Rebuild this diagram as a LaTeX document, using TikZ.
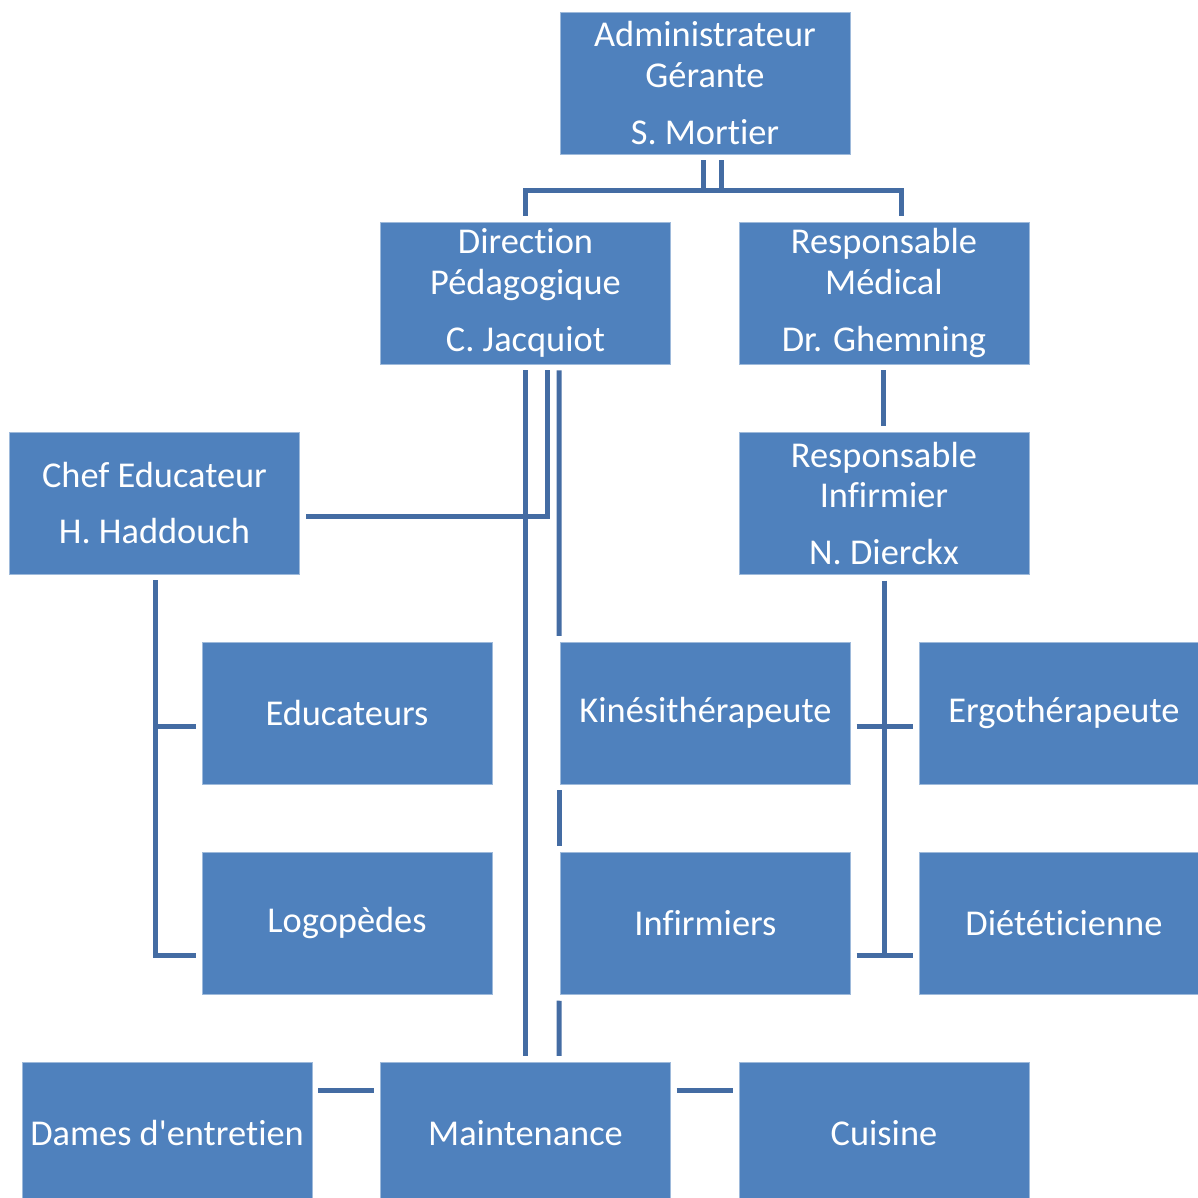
\documentclass[tikz,border=0pt]{standalone}
\usepackage{fontspec}
\setmainfont{Carlito}[Ligatures={TeXOff,NoCommon}]
\usepackage{tikz}
\usetikzlibrary{positioning,calc}

\definecolor{boxblue}{RGB}{79,129,189}
\definecolor{linkblue}{RGB}{68,108,163}

\begin{document}
\begin{tikzpicture}[x=0.02cm, y=-0.02cm,
    box/.style={rectangle, fill=boxblue, draw=boxblue!55!white, line width=0.3pt,
      minimum width=5.8cm, minimum height=2.84cm, inner sep=2pt, text=white,
      align=center, font=\fontsize{20.7}{23.3}\selectfont},
    link/.style={draw=linkblue, line width=0.1cm}]
      \useasboundingbox (0,0) rectangle (1198,1198);
      \clip (0,0) rectangle (1198,1198);

      % boxes
      \node (admin)[box] at (705,83) {Administrateur\\Gérante\\[0.32cm]S. Mortier};
      \node (dir)[box] at (525.5,293) {Direction\\Pédagogique\\[0.32cm]C. Jacquiot};
      \node (med)[box, right=1.36cm of dir] {Responsable\\Médical\\[0.32cm]Dr. Ghemning};
      \node (chef)[box] at (154.5,503) {Chef Educateur\\[0.32cm]H. Haddouch};
      \node (inf)[box, below=1.36cm of med] {Responsable\\Infirmier\\[0.32cm]N. Dierckx};
      \node (educ)[box] at (347,713) {Educateurs};
      \node (kine)[box, right=1.36cm of educ] {Kinésithérapeute};
      \node (ergo)[box, right=1.36cm of kine] {Ergothérapeute};
      \node (logo)[box, below=1.36cm of educ] {Logopèdes};
      \node (infs)[box, below=1.36cm of kine] {Infirmiers};
      \node (diet)[box, below=1.36cm of ergo] {Diététicienne};
      \node (maint)[box] at (525.5,1133) {Maintenance};
      \node (dames)[box, left=1.36cm of maint] {Dames d'entretien};
      \node (cuis)[box, right=1.36cm of maint] {Cuisine};

      % top bar
      \draw[link] ($(dir.north)+(0,-6)$) |- ($(med.north)+(17.5,-31)$) -- ($(med.north)+(17.5,-6)$);
      \draw[link] ($(admin.south)+(-2,6)$) -- ($(admin.south |- dir.north)+(-2,-31)$);
      \draw[link] ($(admin.south)+(16,6)$) -- ($(admin.south |- dir.north)+(16,-31)$);

      % direction
      \draw[link] ($(dir.south)+(0,6)$) -- ($(maint.north)+(0,-6)$);
      \draw[link] ($(dir.south)+(21.5,6)$) |- ($(chef.east)+(6,13)$);
      \draw[link] ($(dir.south)+(33.5,6)$) -- ($(kine.north west)+(-1,-6)$);
      \draw[link] ($(kine.south west)+(-1,6)$) -- ($(infs.north west)+(-1,-6)$);
      \draw[link] ($(infs.south west)+(-1,6)$) -- ($(maint.north)+(33.5,-6)$);

      % medical side
      \draw[link] ($(med.south)+(0,6)$) -- ($(inf.north)+(0,-6)$);
      \draw[link] ($(inf.south)+(1,6)$) -- ($(inf.south |- diet.west)+(1,32)$);
      \draw[link] ($(kine.east)+(6,13)$) -- ($(ergo.west)+(-6,13)$);
      \draw[link] ($(infs.east)+(6,32)$) -- ($(diet.west)+(-6,32)$);

      % chef educateur
      \draw[link] ($(chef.south)+(0.5,6)$) |- ($(logo.west)+(-6,32)$);
      \draw[link] ($(chef.south |- educ.west)+(0.5,13)$) -- ($(educ.west)+(-6,13)$);

      % bottom row
      \draw[link] ($(dames.east)+(6,-43)$) -- ($(maint.west)+(-6,-43)$);
      \draw[link] ($(maint.east)+(6,-43)$) -- ($(cuis.west)+(-6,-43)$);
\end{tikzpicture}
\end{document}
